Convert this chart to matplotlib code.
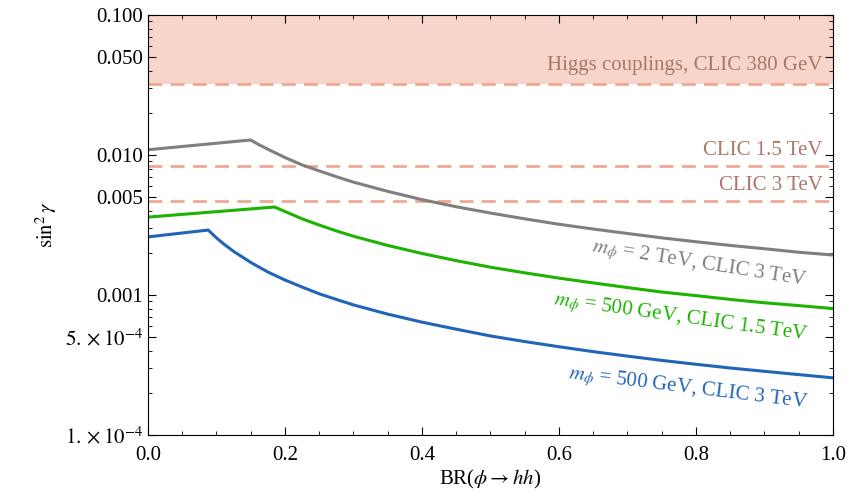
import matplotlib
matplotlib.use("Agg")
import matplotlib.pyplot as plt
from matplotlib.ticker import FixedLocator, LogLocator, NullFormatter

plt.rcParams['font.family'] = ['Liberation Serif', 'DejaVu Serif']
plt.rcParams['mathtext.fontset'] = 'stix'

# read-off values
gray_x = [0.0, 0.15, 0.16, 0.175, 0.2, 0.225, 0.25, 0.275, 0.3, 0.35, 0.4, 0.45, 0.5, 0.55, 0.6, 0.65, 0.7, 0.75, 0.8, 0.85, 0.9, 0.95, 1.0]
gray_y = [0.0109, 0.0128, 0.0120, 0.0110, 0.0096, 0.0085, 0.0077, 0.0070, 0.0064, 0.0055, 0.0048, 0.00427, 0.00385, 0.0035, 0.0032, 0.00296, 0.00275, 0.00256, 0.0024, 0.00226, 0.00214, 0.00202, 0.00193]
green_x = [0.0, 0.185, 0.2, 0.225, 0.25, 0.275, 0.3, 0.35, 0.4, 0.45, 0.5, 0.55, 0.6, 0.65, 0.7, 0.75, 0.8, 0.85, 0.9, 0.95, 1.0]
green_y = [0.0036, 0.00425, 0.00395, 0.0035, 0.00316, 0.00287, 0.00263, 0.00226, 0.00198, 0.00176, 0.00158, 0.00144, 0.00132, 0.00122, 0.00113, 0.00105, 0.00099, 0.00093, 0.00088, 0.00084, 0.00080]
blue_x = [0.0, 0.088, 0.095, 0.1, 0.11, 0.125, 0.15, 0.175, 0.2, 0.225, 0.25, 0.275, 0.3, 0.35, 0.4, 0.45, 0.5, 0.55, 0.6, 0.65, 0.7, 0.75, 0.8, 0.85, 0.9, 0.95, 1.0]
blue_y = [0.0026, 0.00291, 0.0027, 0.00256, 0.00233, 0.00205, 0.00171, 0.00146, 0.00128, 0.00114, 0.00102, 0.00093, 0.00085, 0.00073, 0.00064, 0.00057, 0.00051, 0.000465, 0.000427, 0.000394, 0.000366, 0.000341, 0.00032, 0.000301, 0.000285, 0.00027, 0.000256]
band_lo, band_hi = 0.032, 0.1
clic15, clic3 = 0.0083, 0.0047

fig = plt.figure(figsize=(8.5, 5), dpi=100)
ax = fig.add_axes([0.174, 0.13, 0.806, 0.84])
salmon = '#f0a890'
ax.axhspan(band_lo, band_hi, color='#f8d5ca', lw=0)
for v in (band_lo, clic15, clic3):
    ax.axhline(v, color=salmon, ls=(0, (5, 3)), lw=2)
ax.plot(gray_x, gray_y, color='#7f7f7f', lw=2.2)
ax.plot(green_x, green_y, color='#1db300', lw=2.2)
ax.plot(blue_x, blue_y, color='#2065b8', lw=2.2)

ax.set_yscale('log')
ax.set_xlim(0, 1)
ax.set_ylim(1e-4, 0.1)
tv = [1e-4, 5e-4, 0.001, 0.005, 0.01, 0.05, 0.1]
tl = [r'$1.\times 10^{-4}$', r'$5.\times 10^{-4}$', '0.001', '0.005', '0.010', '0.050', '0.100']
ax.yaxis.set_major_locator(FixedLocator(tv))
ax.set_yticklabels(tl)
ax.yaxis.set_minor_locator(LogLocator(subs=range(1, 10), numticks=20))
ax.yaxis.set_minor_formatter(NullFormatter())
ax.set_xticks([0, 0.2, 0.4, 0.6, 0.8, 1.0])
ax.set_xticklabels(['0.0', '0.2', '0.4', '0.6', '0.8', '1.0'])
ax.xaxis.set_minor_locator(FixedLocator([i / 20 for i in range(21)]))
ax.tick_params(which='both', direction='in', top=True, right=True, labelsize=15)
ax.tick_params(which='major', length=6)
ax.tick_params(which='minor', length=3)
ax.tick_params(axis='x', pad=8)
ax.set_xlabel(r'BR($\phi \rightarrow hh$)', fontsize=15, labelpad=2)
ax.set_ylabel(r'$\sin^2\gamma$', fontsize=15)

tc = '#a87868'
ax.text(0.985, 0.037, 'Higgs couplings, CLIC 380 GeV', ha='right', va='bottom', fontsize=15, color=tc)
ax.text(0.985, 0.0092, 'CLIC 1.5 TeV', ha='right', va='bottom', fontsize=15, color=tc)
ax.text(0.985, 0.0052, 'CLIC 3 TeV', ha='right', va='bottom', fontsize=15, color=tc)
ax.text(0.965, 0.00165, r'$m_\phi$ = 2 TeV, CLIC 3 TeV', ha='right', va='center', fontsize=15, color='#7f7f7f', rotation=-9)
ax.text(0.965, 0.00069, r'$m_\phi$ = 500 GeV, CLIC 1.5 TeV', ha='right', va='center', fontsize=15, color='#1db300', rotation=-8)
ax.text(0.965, 0.000215, r'$m_\phi$ = 500 GeV, CLIC 3 TeV', ha='right', va='center', fontsize=15, color='#2065b8', rotation=-7)

fig.savefig('out.png', dpi=100)
